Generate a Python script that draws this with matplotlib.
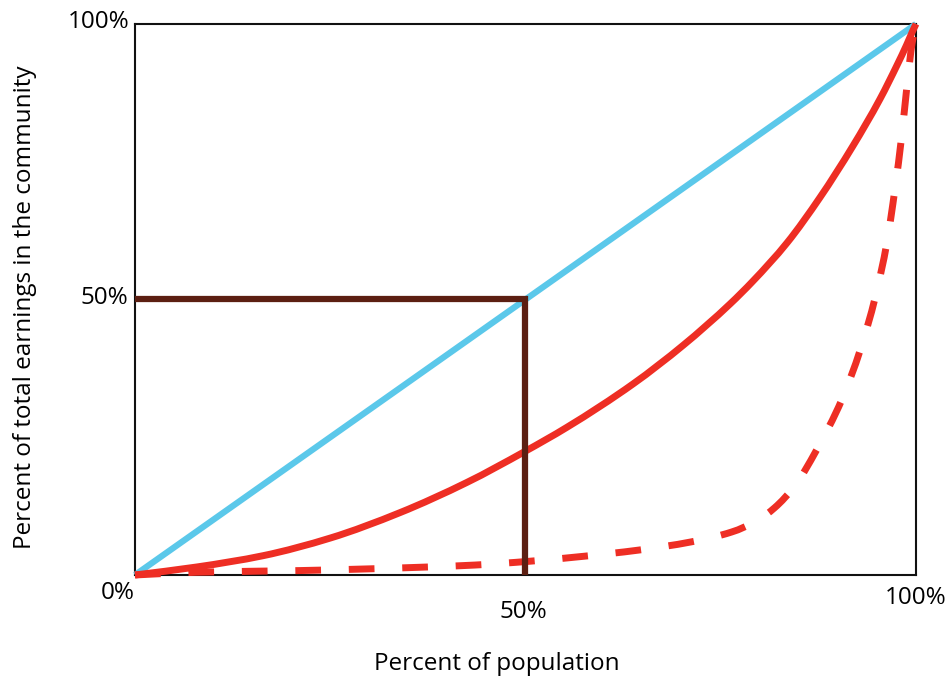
import matplotlib
matplotlib.use("Agg")
import matplotlib.pyplot as plt
from matplotlib.path import Path
from matplotlib.patches import PathPatch

plt.rcParams['font.family'] = ['Open Sans', 'DejaVu Sans']

# Data (fractions of population / earnings)
equality_x = [0.0, 1.0]
equality_y = [0.0, 1.0]

lorenz_x = [0.0, 0.079, 0.164, 0.250, 0.339, 0.425, 0.499, 0.553, 0.638, 0.702,
            0.762, 0.791, 0.835, 0.877, 0.919, 0.954, 0.976, 0.988, 0.996, 1.0]
lorenz_y = [0.0, 0.0145, 0.035, 0.067, 0.113, 0.168, 0.224, 0.268, 0.347, 0.417,
            0.492, 0.533, 0.603, 0.685, 0.778, 0.864, 0.926, 0.962, 0.988, 1.0]

extreme_x = [0.0, 0.079, 0.211, 0.297, 0.365, 0.435, 0.506, 0.575, 0.644, 0.712,
             0.764, 0.796, 0.819, 0.845, 0.872, 0.905, 0.929, 0.948, 0.963, 0.973,
             0.982, 0.989, 0.995, 1.0]
extreme_y = [0.0, 0.005, 0.008, 0.011, 0.014, 0.018, 0.025, 0.034, 0.045, 0.060,
             0.078, 0.098, 0.122, 0.162, 0.225, 0.318, 0.410, 0.505, 0.605, 0.700,
             0.800, 0.895, 0.965, 1.0]

guide_x = [0.0, 0.5, 0.5]
guide_y = [0.5, 0.5, 0.0]

x_tick_labels = ["0%", "50%", "100%"]
y_tick_labels = ["50%", "100%"]


def smooth_path(xs, ys):
    """Monotone cubic (Fritsch-Carlson) through the points, as Bezier segments."""
    n = len(xs)
    h = [xs[i + 1] - xs[i] for i in range(n - 1)]
    d = [(ys[i + 1] - ys[i]) / h[i] for i in range(n - 1)]
    m = [0.0] * n
    m[0] = d[0]
    m[-1] = d[-1]
    for i in range(1, n - 1):
        if d[i - 1] * d[i] <= 0:
            m[i] = 0.0
        else:
            w1 = 2 * h[i] + h[i - 1]
            w2 = h[i] + 2 * h[i - 1]
            m[i] = (w1 + w2) / (w1 / d[i - 1] + w2 / d[i])
    verts = [(xs[0], ys[0])]
    codes = [Path.MOVETO]
    for i in range(n - 1):
        verts += [(xs[i] + h[i] / 3, ys[i] + m[i] * h[i] / 3),
                  (xs[i + 1] - h[i] / 3, ys[i + 1] - m[i + 1] * h[i] / 3),
                  (xs[i + 1], ys[i + 1])]
        codes += [Path.CURVE4] * 3
    return Path(verts, codes)


fig = plt.figure(figsize=(9.5, 6.79), dpi=100)
ax = fig.add_axes([0.1421, 0.1532, 0.9642 - 0.1421, 0.9647 - 0.1532])
ax.set_xlim(0, 1)
ax.set_ylim(0, 1)
ax.set_xticks([])
ax.set_yticks([])
for s in ax.spines.values():
    s.set_linewidth(1.5)
    s.set_color('#111111')

ax.plot(equality_x, equality_y, color='#5bc8ea', lw=4.5, solid_capstyle='butt',
        clip_on=False, zorder=3)
ax.add_patch(PathPatch(smooth_path(lorenz_x, lorenz_y), facecolor='none',
                       edgecolor='#ee2e24', lw=5, capstyle='butt', joinstyle='round',
                       clip_on=False, zorder=4))
ax.add_patch(PathPatch(smooth_path(extreme_x, extreme_y), facecolor='none',
                       edgecolor='#ee2e24', lw=5, linestyle=(0, (3.7, 4.0)),
                       capstyle='butt', joinstyle='round', clip_on=False, zorder=4))
ax.plot(guide_x, guide_y, color='#5c1f12', lw=4.5, solid_joinstyle='miter',
        solid_capstyle='butt', clip_on=False, zorder=5)

fs = 17.5
ax.text(-0.022, -0.033, x_tick_labels[0], ha='center', va='center', fontsize=fs)
ax.text(0.497, -0.067, x_tick_labels[1], ha='center', va='center', fontsize=fs)
ax.text(1.0, -0.042, x_tick_labels[2], ha='center', va='center', fontsize=fs)
ax.text(-0.009, 0.503, y_tick_labels[0], ha='right', va='center', fontsize=fs)
ax.text(-0.0064, 1.0036, y_tick_labels[1], ha='right', va='center', fontsize=fs)

fig.text(497 / 950, 1 - 664 / 679, "Percent of population", ha='center', va='center',
         fontsize=fs)
fig.text(25 / 950, 1 - 307 / 679, "Percent of total earnings in the community",
         ha='center', va='center', rotation=90, fontsize=fs)

fig.savefig("out.png", dpi=100)
